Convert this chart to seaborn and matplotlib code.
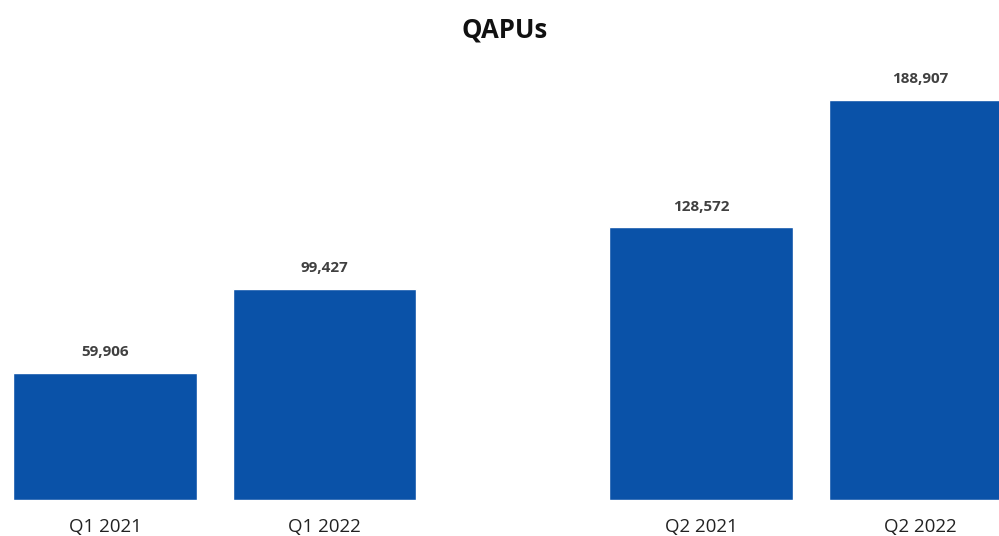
import matplotlib
matplotlib.use("Agg")
import matplotlib.pyplot as plt
import seaborn as sns
import pandas as pd

categories = ["Q1 2021", "Q1 2022", "Q2 2021", "Q2 2022"]
values = [59906, 99427, 128572, 188907]
value_labels = ["59,906", "99,427", "128,572", "188,907"]
title = "QAPUs"

sns.set_theme(style="white")
plt.rcParams["font.family"] = ["Open Sans", "DejaVu Sans"]

# layout positions (gap between quarter pairs)
pos = [0.0, 1.0, 2.715, 3.715]
df = pd.DataFrame({"pos": pos, "value": values, "cat": categories})

fig = plt.figure(figsize=(9.99, 5.36), dpi=100)
ax = fig.add_axes([0, 36 / 536, 1, 440 / 536])
sns.barplot(data=df, x="pos", y="value", native_scale=True, width=0.835,
            color="#0A52A8", saturation=1, ax=ax)
ax.set_xlim(-105 / 219.5, 894 / 219.5)
ax.set_ylim(0, 440 / 0.00212)
for p, v, lab in zip(pos, values, value_labels):
    ax.annotate(lab, (p, v), xytext=(0, 10), textcoords="offset points",
                ha="center", va="bottom", fontsize=11, fontweight="bold",
                color="#404040")
ax.set_xticks(pos)
ax.set_xticklabels(categories, fontsize=13.5, color="#222222")
ax.tick_params(axis="x", length=0, pad=13)
ax.set_yticks([])
ax.set_xlabel("")
ax.set_ylabel("")
for s in ax.spines.values():
    s.set_visible(False)
fig.text(0.505, 1 - 30 / 536, title, ha="center", va="center",
         fontsize=18.5, fontweight="bold", color="#111111")
fig.savefig("out.png", dpi=100)
